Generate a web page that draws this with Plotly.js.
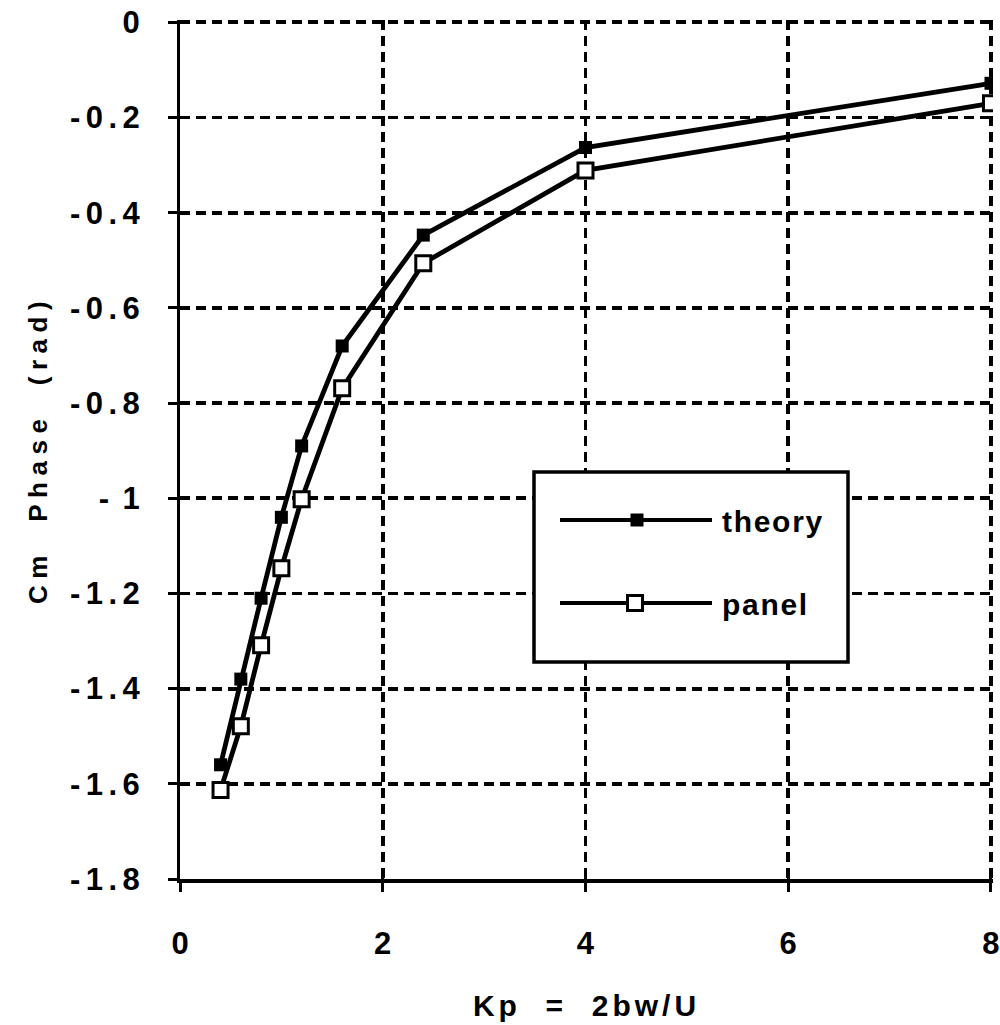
<!DOCTYPE html>
<html><head><meta charset="utf-8">
<script src="https://cdn.plot.ly/plotly-3.0.1.min.js"></script>
<style>
html,body{margin:0;padding:0;background:#fff;}
#chart{width:1000px;height:1025px;}
.ytick text{letter-spacing:5.5px;}
.ytitle{letter-spacing:6.5px;}
.xtitle{letter-spacing:4px;}
.annotation-text{letter-spacing:1.7px;}
</style></head><body>
<div id="chart"></div>
<script>
// ---- data ----
const kp = [0.4, 0.6, 0.8, 1.0, 1.2, 1.6, 2.4, 4, 8];
const theory = [-1.56, -1.38, -1.21, -1.04, -0.89, -0.68, -0.447, -0.263, -0.128];
const panel = [-1.613, -1.479, -1.309, -1.147, -1.002, -0.769, -0.506, -0.311, -0.170];
const seriesNames = ['theory', 'panel'];
const xTickVals = [0, 2, 4, 6, 8];
const xTickText = ['0', '2', '4', '6', '8'];
const yTickVals = [0, -0.2, -0.4, -0.6, -0.8, -1, -1.2, -1.4, -1.6, -1.8];
const yTickText = ['0', '-0.2', '-0.4', '-0.6', '-0.8', '-\u200A1', '-1.2', '-1.4', '-1.6', '-1.8'];
const xTitle = 'Kp\u00A0\u00A0=\u00A0\u00A02bw/U';
const yTitle = 'Cm\u00A0\u00A0Phase\u00A0\u00A0(rad)';

// ---- layout geometry (pixels) ----
const W = 1000, H = 1025;
const M = {l: 180, r: 7, t: 20, b: 146};
const PW = W - M.l - M.r, PH = H - M.t - M.b;
const px = v => (v - M.l) / PW;          // pixel x -> paper
const py = v => (H - M.b - v) / PH;      // pixel y -> paper

const FONT = 'Liberation Sans, Arial, Helvetica, sans-serif';
const K = '#000';

const traces = [
  {x: kp, y: theory, name: seriesNames[0], type: 'scatter', mode: 'lines+markers',
   line: {color: K, width: 4.8},
   marker: {symbol: 'square', size: 13, color: K}, showlegend: false},
  {x: kp, y: panel, name: seriesNames[1], type: 'scatter', mode: 'lines+markers',
   line: {color: K, width: 4.8},
   marker: {symbol: 'square', size: 15, color: '#fff', line: {color: K, width: 3}}, showlegend: false},
  {x: [], y: [], xaxis: 'x2', yaxis: 'y2', showlegend: false, hoverinfo: 'skip'}
];

const axisCommon = {
  showline: true, linecolor: K, linewidth: 3.5,
  showgrid: true, gridcolor: K, gridwidth: 3.8, griddash: '10px,6px',
  zeroline: false, ticks: 'outside', ticklen: 9, tickwidth: 3, tickcolor: K,
  tickfont: {family: FONT, size: 31, color: K, weight: 'bold'},
  tickmode: 'array', fixedrange: true
};

// legend drawn as a boxed key
const legY = [520, 603];
const shapes = [
  {type: 'rect', xref: 'paper', yref: 'paper', x0: px(534), x1: px(848), y0: py(662), y1: py(472),
   fillcolor: '#fff', line: {color: K, width: 3.5}, layer: 'above'},
  {type: 'line', xref: 'paper', yref: 'paper', x0: px(560), x1: px(712), y0: py(legY[0]), y1: py(legY[0]),
   line: {color: K, width: 4}, layer: 'above'},
  {type: 'rect', xref: 'paper', yref: 'paper', x0: px(630.5), x1: px(643.5), y0: py(legY[0] + 6.5), y1: py(legY[0] - 6.5),
   fillcolor: K, line: {width: 0}, layer: 'above'},
  {type: 'line', xref: 'paper', yref: 'paper', x0: px(560), x1: px(712), y0: py(legY[1]), y1: py(legY[1]),
   line: {color: K, width: 4}, layer: 'above'},
  {type: 'rect', xref: 'paper', yref: 'paper', x0: px(627.5), x1: px(642.5), y0: py(legY[1] + 7.5), y1: py(legY[1] - 7.5),
   fillcolor: '#fff', line: {color: K, width: 3}, layer: 'above'}
];
const annotations = seriesNames.map((n, i) => ({
  xref: 'paper', yref: 'paper', x: px(720), y: py(legY[i] + 1), xanchor: 'left', yanchor: 'middle',
  text: n, showarrow: false, font: {family: FONT, size: 30, color: K, weight: 'bold'}
}));

const layout = {
  width: W, height: H, margin: M, paper_bgcolor: '#fff', plot_bgcolor: '#fff',
  showlegend: false,
  xaxis: Object.assign({}, axisCommon, {
    range: [0, 8.02], tickvals: xTickVals, ticktext: xTickText, ticklabelstandoff: 25,
    title: {text: xTitle, standoff: 36, font: {family: FONT, size: 30, color: K, weight: 'bold'}}
  }),
  yaxis: Object.assign({}, axisCommon, {
    range: [-1.8, 0.005], tickvals: yTickVals, ticktext: yTickText, ticklabelstandoff: 16,
    title: {text: yTitle, standoff: 16, font: {family: FONT, size: 26, color: K, weight: 'bold'}}
  }),
  xaxis2: {overlaying: 'x', matches: 'x', anchor: 'y', side: 'bottom', showgrid: false, zeroline: false,
    showline: false, ticks: 'inside', ticklen: 9, tickwidth: 3, tickcolor: K, showticklabels: false,
    tickmode: 'array', tickvals: xTickVals, fixedrange: true},
  yaxis2: {overlaying: 'y', matches: 'y', anchor: 'x', side: 'left', showgrid: false, zeroline: false,
    showline: false, ticks: 'inside', ticklen: 9, tickwidth: 3, tickcolor: K, showticklabels: false,
    tickmode: 'array', tickvals: yTickVals, fixedrange: true},
  shapes: shapes, annotations: annotations
};

Plotly.newPlot('chart', traces, layout, {displayModeBar: false, staticPlot: true});
</script>
</body></html>
